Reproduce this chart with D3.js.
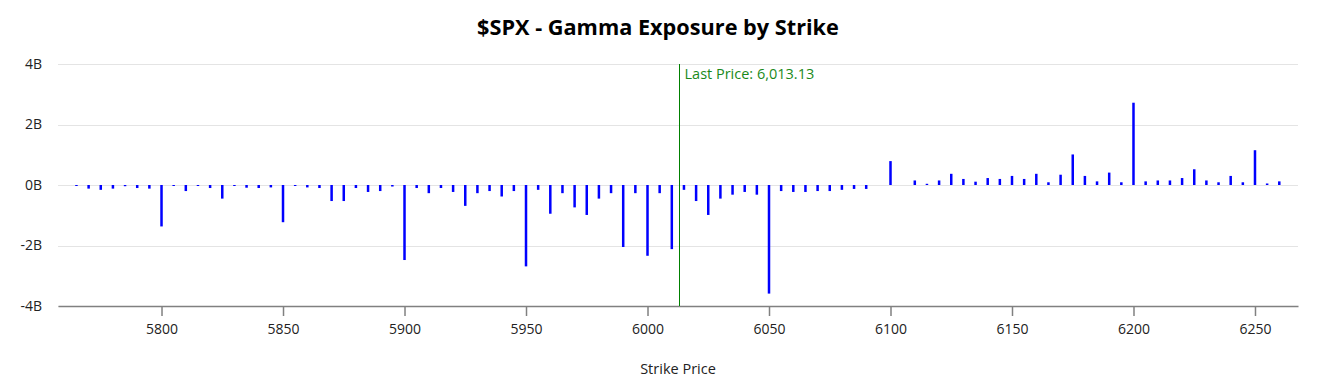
<!DOCTYPE html>
<html>
<head>
<meta charset="utf-8">
<script src="https://cdn.jsdelivr.net/npm/d3@7"></script>
<style>
  body { margin: 0; background: #fff; font-family: 'Open Sans', sans-serif; }
</style>
</head>
<body>
<script>
  // strikes and gamma exposure (billions)
  const strikes = [
    5765, 5770, 5775, 5780, 5785, 5790, 5795, 5800, 5805, 5810, 5815, 5820, 5825, 5830, 5835, 5840, 5845,
    5850, 5855, 5860, 5865, 5870, 5875, 5880, 5885, 5890, 5895, 5900, 5905, 5910, 5915, 5920, 5925, 5930,
    5935, 5940, 5945, 5950, 5955, 5960, 5965, 5970, 5975, 5980, 5985, 5990, 5995, 6000, 6005, 6010, 6015,
    6020, 6025, 6030, 6035, 6040, 6045, 6050, 6055, 6060, 6065, 6070, 6075, 6080, 6085, 6090, 6100, 6110,
    6115, 6120, 6125, 6130, 6135, 6140, 6145, 6150, 6155, 6160, 6165, 6170, 6175, 6180, 6185, 6190, 6195,
    6200, 6205, 6210, 6215, 6220, 6225, 6230, 6235, 6240, 6245, 6250, 6255, 6260
  ];
  const gex = [
    -0.02, -0.12, -0.16, -0.12, -0.04, -0.1, -0.12, -1.37, -0.03, -0.2, -0.03, -0.1, -0.45, -0.03, -0.09, -0.1, -0.08,
    -1.23, -0.03, -0.08, -0.1, -0.53, -0.53, -0.1, -0.23, -0.2, -0.05, -2.48, -0.1, -0.27, -0.1, -0.23, -0.69, -0.27,
    -0.2, -0.38, -0.2, -2.69, -0.16, -0.95, -0.27, -0.74, -0.99, -0.45, -0.27, -2.05, -0.27, -2.34, -0.27, -2.12, -0.16,
    -0.53, -0.99, -0.45, -0.32, -0.23, -0.32, -3.59, -0.2, -0.23, -0.23, -0.2, -0.2, -0.16, -0.13, -0.13, 0.79, 0.15,
    0.04, 0.15, 0.37, 0.2, 0.11, 0.23, 0.2, 0.3, 0.2, 0.37, 0.09, 0.34, 1.01, 0.3, 0.12, 0.41, 0.09,
    2.72, 0.12, 0.15, 0.15, 0.23, 0.52, 0.15, 0.09, 0.3, 0.09, 1.15, 0.05, 0.12
  ];
  const xTicks = [5800, 5850, 5900, 5950, 6000, 6050, 6100, 6150, 6200, 6250];
  const yTicks = [-4, -2, 0, 2, 4];
  const lastPrice = 6013.13;

  const width = 1320;
  const height = 384;
  const margin = { top: 64, right: 22, bottom: 78, left: 58 };

  const data = strikes.map((s, i) => ({ strike: s, value: gex[i] }));

  const svg = d3.select('body')
    .append('svg')
    .attr('width', width)
    .attr('height', height);

  const x = d3.scaleLinear()
    .domain([5757.4, 6267.7])
    .range([margin.left, width - margin.right]);

  const y = d3.scaleLinear()
    .domain([-4, 4])
    .range([height - margin.bottom, margin.top]);

  // grid
  svg.append('g')
    .selectAll('line')
    .data(yTicks)
    .join('line')
    .attr('x1', margin.left)
    .attr('x2', width - margin.right)
    .attr('y1', (d) => Math.round(y(d)) + 0.5)
    .attr('y2', (d) => Math.round(y(d)) + 0.5)
    .attr('stroke', '#e4e4e4')
    .attr('stroke-width', 1);

  // y axis
  svg.append('g')
    .attr('transform', `translate(${margin.left},0)`)
    .call(d3.axisLeft(y).tickValues(yTicks).tickSize(0).tickPadding(16).tickFormat((d) => `${d}B`))
    .call((g) => g.select('.domain').remove())
    .call((g) => g.selectAll('text')
      .attr('font-family', 'Open Sans')
      .attr('font-size', 14)
      .attr('fill', '#222'));

  // bars
  svg.append('g')
    .selectAll('rect')
    .data(data)
    .join('rect')
    .attr('x', (d) => x(d.strike) - 1.25)
    .attr('width', 2.5)
    .attr('y', (d) => Math.min(y(d.value), y(0)))
    .attr('height', (d) => Math.max(1, Math.abs(y(d.value) - y(0))))
    .attr('fill', '#0000ff');

  // x axis
  svg.append('g')
    .attr('transform', `translate(0,${height - margin.bottom})`)
    .call(d3.axisBottom(x).tickValues(xTicks).tickSize(10).tickSizeOuter(0).tickPadding(8).tickFormat(d3.format('d')))
    .call((g) => g.select('.domain').attr('stroke', '#808080').attr('stroke-width', 1.5))
    .call((g) => g.selectAll('.tick line').attr('stroke', '#808080').attr('stroke-width', 1.5))
    .call((g) => g.selectAll('text')
      .attr('font-family', 'Open Sans')
      .attr('font-size', 14)
      .attr('fill', '#222'));

  // last price
  const lpX = Math.round(x(lastPrice)) + 0.5;
  svg.append('line')
    .attr('x1', lpX)
    .attr('x2', lpX)
    .attr('y1', margin.top)
    .attr('y2', height - margin.bottom)
    .attr('stroke', '#008000')
    .attr('stroke-width', 1);

  svg.append('text')
    .attr('x', lpX + 5)
    .attr('y', margin.top + 15)
    .attr('font-family', 'Open Sans')
    .attr('font-size', 14.5)
    .attr('fill', '#1a8a1a')
    .text(`Last Price: ${d3.format(',.2f')(lastPrice)}`);

  // titles
  svg.append('text')
    .attr('x', width / 2 - 2)
    .attr('y', 35)
    .attr('text-anchor', 'middle')
    .attr('font-family', 'Open Sans')
    .attr('font-weight', 'bold')
    .attr('font-size', 21.7)
    .attr('fill', '#000')
    .text('$SPX - Gamma Exposure by Strike');

  svg.append('text')
    .attr('x', (margin.left + width - margin.right) / 2)
    .attr('y', 374)
    .attr('text-anchor', 'middle')
    .attr('font-family', 'Open Sans')
    .attr('font-size', 14.5)
    .attr('fill', '#222')
    .text('Strike Price');
</script>
</body>
</html>
